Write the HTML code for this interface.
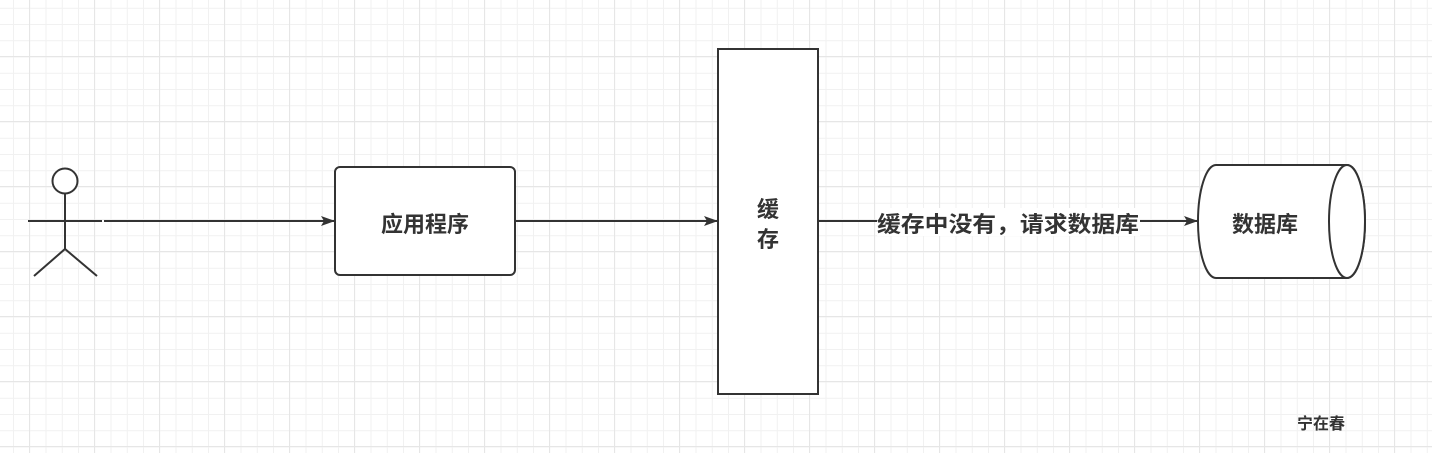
<!DOCTYPE html>
<html><head><meta charset="utf-8"><style>
html,body{margin:0;padding:0}
body{width:1432px;height:453px;overflow:hidden;background-color:#fff;
background-image:
linear-gradient(#e6e6e6 1px,transparent 1px),linear-gradient(90deg,#e6e6e6 1px,transparent 1px),
linear-gradient(#f1f1f1 1px,transparent 1px),linear-gradient(90deg,#f1f1f1 1px,transparent 1px);
background-size:65px 65px,65px 65px,16.25px 16.25px,16.25px 16.25px;
background-position:0 56px,29px 0,0 7.75px,13px 0;}
svg{position:absolute;left:0;top:0}
text{font-family:"Liberation Sans","Noto Sans CJK SC",sans-serif;font-weight:bold;fill:#333}
</style></head><body>
<svg width="1432" height="453" xmlns="http://www.w3.org/2000/svg">
<defs><marker id="a" markerWidth="14" markerHeight="10" refX="13" refY="5" orient="auto" markerUnits="userSpaceOnUse"><path d="M0,0 L14,5 L0,10 L3,5Z" fill="#333"/></marker></defs>
<g stroke="#333" stroke-width="2" fill="none">
<circle cx="65" cy="181" r="12.5" fill="#fff"/>
<line x1="65" y1="194" x2="65" y2="249"/>
<line x1="28" y1="221" x2="102" y2="221"/>
<polyline points="34,276 65,249 97,276"/>
<line x1="104" y1="221" x2="334" y2="221" marker-end="url(#a)"/>
<rect x="335" y="167" width="180" height="108" rx="5" fill="#fff"/>
<line x1="515" y1="221" x2="717" y2="221" marker-end="url(#a)"/>
<rect x="718" y="49" width="100" height="345" fill="#fff"/>
<line x1="818" y1="221" x2="1197" y2="221" marker-end="url(#a)"/>
<path d="M1216,165 L1347,165 A18,56.5 0 0 1 1347,278 L1216,278 A18,56.5 0 0 1 1216,165Z" fill="#fff"/>
<ellipse cx="1347" cy="221.5" rx="18" ry="56.5" fill="#fff"/>
</g>
<rect x="877" y="208" width="263" height="28" fill="#fff"/>
<text x="425" y="232" font-size="22" text-anchor="middle">应用程序</text>
<text x="768" y="217" font-size="22" text-anchor="middle">缓</text>
<text x="768" y="247" font-size="22" text-anchor="middle">存</text>
<text x="1008" y="232" font-size="22" text-anchor="middle" textLength="262" lengthAdjust="spacingAndGlyphs">缓存中没有，请求数据库</text>
<text x="1265" y="232" font-size="22" text-anchor="middle">数据库</text>
<text x="1321" y="429" font-size="16" text-anchor="middle">宁在春</text>
</svg>
</body></html>
